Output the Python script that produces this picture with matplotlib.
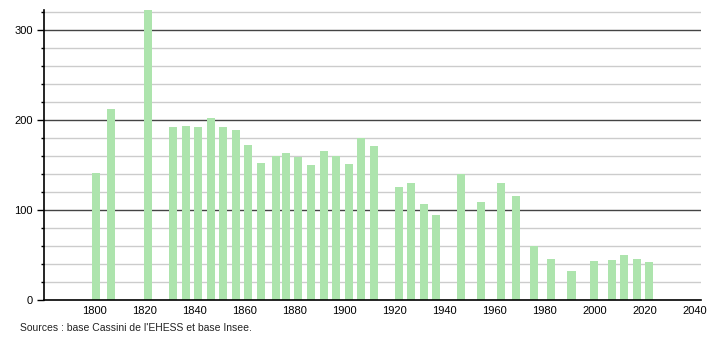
import numpy as np
import matplotlib
matplotlib.use("Agg")
import matplotlib.pyplot as plt
from matplotlib.ticker import MultipleLocator

# Census years and population
years = [1800, 1806, 1821, 1831, 1836, 1841, 1846, 1851, 1856, 1861,
         1866, 1872, 1876, 1881, 1886, 1891, 1896, 1901, 1906, 1911,
         1921, 1926, 1931, 1936, 1946, 1954, 1962, 1968, 1975, 1982,
         1990, 1999, 2006, 2011, 2016, 2021]
population = [141, 212, 340, 192, 193, 192, 202, 192, 189, 172,
              152, 160, 163, 159, 150, 165, 160, 151, 180, 171,
              125, 130, 107, 94, 140, 109, 130, 116, 60, 46,
              32, 43, 44, 50, 46, 42]

x_ticks = list(range(1800, 2041, 20))
y_major = [0, 100, 200, 300]
source_text = "Sources : base Cassini de l'EHESS et base Insee."

plt.rcParams['font.family'] = ['Liberation Sans', 'DejaVu Sans']

fig = plt.figure(figsize=(7.1, 3.4), dpi=100)
ax = fig.add_axes([44 / 710, 40 / 340, 657 / 710, 290 / 340])

bar_color = '#ade4ad'
bar_width = 3.2
ax.bar(np.array(years) + 0.6, population, width=bar_width, align='center',
       color=bar_color, edgecolor='none', zorder=3)

ax.set_xlim(1780, 2042.3)
ax.set_ylim(0, 322)

# grid: light every 20, dark every 100
for v in range(20, 321, 20):
    if v % 100 == 0:
        ax.axhline(v, color='#444444', linewidth=1.0, zorder=1)
    else:
        ax.axhline(v, color='#cccccc', linewidth=1.0, zorder=1)

ax.yaxis.set_major_locator(MultipleLocator(100))
ax.yaxis.set_minor_locator(MultipleLocator(20))
ax.set_yticks(y_major)
ax.set_xticks(x_ticks)
ax.set_xticklabels([str(t) for t in x_ticks])

ax.tick_params(axis='y', which='major', length=5, width=1, labelsize=8, pad=3)
ax.tick_params(axis='y', which='minor', length=2, width=1)
ax.tick_params(axis='x', which='both', length=0, labelsize=8, pad=4)

for s in ['top', 'right']:
    ax.spines[s].set_visible(False)
ax.spines['left'].set_linewidth(1.2)
ax.spines['bottom'].set_linewidth(1.2)
ax.spines['left'].set_zorder(4)
ax.spines['bottom'].set_zorder(4)

fig.text(20 / 710, 1 - 328 / 340, source_text, fontsize=7.5,
         ha='left', va='center', color='#222222')

fig.savefig('out.png', dpi=100, facecolor='white')
